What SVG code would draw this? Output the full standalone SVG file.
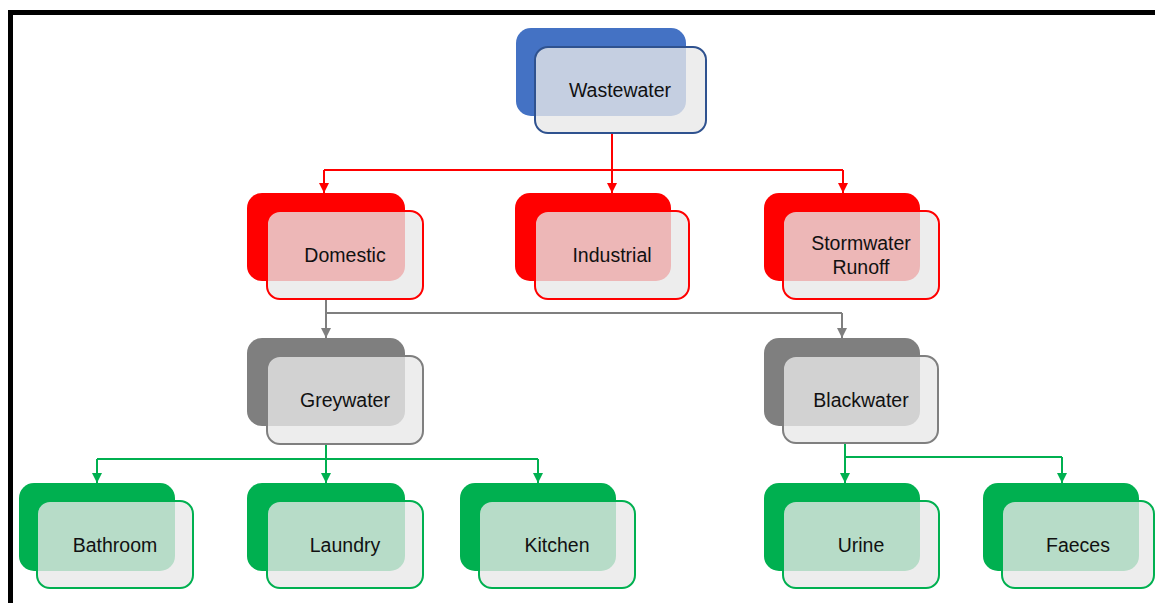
<svg xmlns="http://www.w3.org/2000/svg" width="1155" height="603" viewBox="0 0 1155 603">
<style>
.t{font-family:"Liberation Sans",Arial,sans-serif;font-size:19.5px;fill:#111;text-anchor:middle;dominant-baseline:central}
.front{fill:#E8E8E8;fill-opacity:0.79;stroke-width:2}
.blue .back{fill:#4472C4}.blue .front{stroke:#2F528F}
.red .back{fill:#FF0000}.red .front{stroke:#FF0000}
.grey .back{fill:#7F7F7F}.grey .front{stroke:#7F7F7F}
.green .back{fill:#00B050}.green .front{stroke:#00B050}
.c{fill:none;stroke-width:2}
.cr{stroke:#FF0000}.cg{stroke:#7F7F7F}.cn{stroke:#00B050}
</style>
<defs>
<marker id="ar" viewBox="0 0 10 10" refX="10" refY="5" markerWidth="10" markerHeight="10" markerUnits="userSpaceOnUse" orient="auto"><path d="M0,0L10,5L0,10z" fill="#FF0000"/></marker>
<marker id="ag" viewBox="0 0 10 10" refX="10" refY="5" markerWidth="10" markerHeight="10" markerUnits="userSpaceOnUse" orient="auto"><path d="M0,0L10,5L0,10z" fill="#7F7F7F"/></marker>
<marker id="an" viewBox="0 0 10 10" refX="10" refY="5" markerWidth="10" markerHeight="10" markerUnits="userSpaceOnUse" orient="auto"><path d="M0,0L10,5L0,10z" fill="#00B050"/></marker>
</defs>
<rect width="1155" height="603" fill="#fff"/>
<path d="M8,12.5H1155M10.5,10V603" stroke="#000" stroke-width="5" fill="none"/>
<g id="connectors">
<path class="c cr" d="M612,133V170M324,170H843"/>
<path class="c cr" d="M324,170V193" marker-end="url(#ar)"/>
<path class="c cr" d="M612,170V193" marker-end="url(#ar)"/>
<path class="c cr" d="M843,170V193" marker-end="url(#ar)"/>
<path class="c cg" d="M326,299V313H842"/>
<path class="c cg" d="M326,313V338" marker-end="url(#ag)"/>
<path class="c cg" d="M842,313V338" marker-end="url(#ag)"/>
<path class="c cn" d="M326,444V459M97,459H538"/>
<path class="c cn" d="M97,459V483" marker-end="url(#an)"/>
<path class="c cn" d="M326,459V483" marker-end="url(#an)"/>
<path class="c cn" d="M538,459V483" marker-end="url(#an)"/>
<path class="c cn" d="M845,443V457H1062"/>
<path class="c cn" d="M845,457V483" marker-end="url(#an)"/>
<path class="c cn" d="M1062,457V483" marker-end="url(#an)"/>
</g>
<g id="wastewater" class="blue"><rect class="back" x="516" y="28" width="170" height="88" rx="15"/><rect class="front" x="535" y="47" width="171" height="86" rx="13"/><text class="t" x="620" y="90">Wastewater</text></g>
<g id="domestic" class="red"><rect class="back" x="247" y="193" width="158" height="88" rx="15"/><rect class="front" x="267" y="211" width="156" height="88" rx="13"/><text class="t" x="345" y="255">Domestic</text></g>
<g id="industrial" class="red"><rect class="back" x="515" y="193" width="156" height="88" rx="15"/><rect class="front" x="535" y="211" width="154" height="88" rx="13"/><text class="t" x="612" y="255">Industrial</text></g>
<g id="stormwater" class="red"><rect class="back" x="764" y="193" width="156" height="88" rx="15"/><rect class="front" x="783" y="211" width="156" height="88" rx="13"/><text class="t" x="861" y="243">Stormwater</text><text class="t" x="861" y="267">Runoff</text></g>
<g id="greywater" class="grey"><rect class="back" x="247" y="338" width="158" height="88" rx="15"/><rect class="front" x="267" y="356" width="156" height="88" rx="13"/><text class="t" x="345" y="400">Greywater</text></g>
<g id="blackwater" class="grey"><rect class="back" x="764" y="338" width="156" height="88" rx="15"/><rect class="front" x="783" y="356" width="155" height="87" rx="13"/><text class="t" x="861" y="400">Blackwater</text></g>
<g id="bathroom" class="green"><rect class="back" x="19" y="483" width="156" height="88" rx="15"/><rect class="front" x="37" y="501" width="156" height="87" rx="13"/><text class="t" x="115" y="545">Bathroom</text></g>
<g id="laundry" class="green"><rect class="back" x="247" y="483" width="158" height="88" rx="15"/><rect class="front" x="267" y="501" width="156" height="87" rx="13"/><text class="t" x="345" y="545">Laundry</text></g>
<g id="kitchen" class="green"><rect class="back" x="460" y="483" width="156" height="88" rx="15"/><rect class="front" x="479" y="501" width="156" height="87" rx="13"/><text class="t" x="557" y="545">Kitchen</text></g>
<g id="urine" class="green"><rect class="back" x="764" y="483" width="156" height="88" rx="15"/><rect class="front" x="783" y="501" width="156" height="87" rx="13"/><text class="t" x="861" y="545">Urine</text></g>
<g id="faeces" class="green"><rect class="back" x="983" y="483" width="156" height="88" rx="15"/><rect class="front" x="1002" y="501" width="152" height="87" rx="13"/><text class="t" x="1078" y="545">Faeces</text></g>
</svg>
